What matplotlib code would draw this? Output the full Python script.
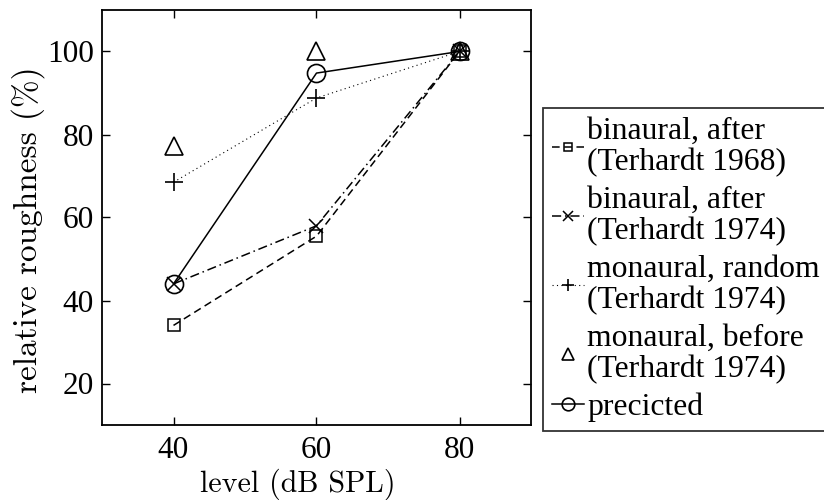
import matplotlib
matplotlib.use("Agg")
import matplotlib.pyplot as plt

plt.rcParams["font.family"] = ["Liberation Serif", "DejaVu Serif"]
plt.rcParams["axes.unicode_minus"] = False

# Sound pressure level (dB SPL)
levels = [40, 60, 80]

# Relative roughness (%) for each condition
binaural_1968 = [34, 55.5, 100]
binaural_1974 = [44, 58, 100]
monaural_random = [68.5, 88.8, 100]
monaural_before = [77.2, 100, 100]
predicted = [44, 94.8, 100]

labels = [
    "binaural, after\n(Terhardt 1968)",
    "binaural, after\n(Terhardt 1974)",
    "monaural, random\n(Terhardt 1974)",
    "monaural, before\n(Terhardt 1974)",
    "precicted",
]

fs = 22.5
fig = plt.figure(figsize=(8.24, 5.0), dpi=100)
ax = fig.add_axes([102 / 824, 1 - 425 / 500, (531 - 102) / 824, (425 - 10) / 500])

lw = 1.1
ax.plot(levels, binaural_1968, linestyle=(0, (5, 3)), color="k", lw=lw,
        marker="s", ms=9, mfc="none", mec="k", mew=1.1, label=labels[0])
ax.plot(levels, binaural_1974, linestyle=(0, (6, 2.5, 1, 2.5)), color="k", lw=lw,
        marker="x", ms=10, mec="k", mew=1.1, label=labels[1])
ax.plot(levels, monaural_random, linestyle=(0, (1, 3)), color="k", lw=0.8,
        marker="+", ms=13, mec="k", mew=1.2, label=labels[2])
ax.plot(levels, monaural_before, linestyle="none", color="k",
        marker="^", ms=13, mfc="none", mec="k", mew=1.2, label=labels[3])
ax.plot(levels, predicted, linestyle="-", color="k", lw=lw,
        marker="o", ms=13, mfc="none", mec="k", mew=1.2, label=labels[4])

ax.set_xlim(30, 90)
ax.set_ylim(10, 110)
ax.set_xticks([40, 60, 80])
ax.set_yticks([20, 40, 60, 80, 100])
ax.tick_params(direction="in", length=6, width=1.0, top=True, right=True,
               labelsize=fs, pad=6)
ax.tick_params(axis="x", pad=8)
for s in ax.spines.values():
    s.set_linewidth(1.3)

ax.set_xlabel("level (dB SPL)", fontsize=21.5, family="cmr10")
ax.set_ylabel("relative roughness (%)", fontsize=24, family="cmr10")
ax.xaxis.set_label_coords(0.456, -0.105)
ax.yaxis.set_label_coords(-0.133, 0.47)

leg = fig.legend(loc="upper left", bbox_to_anchor=(543 / 824, 1 - 108 / 500),
                 bbox_transform=fig.transFigure, borderaxespad=0,
                 fontsize=22.8, frameon=True, fancybox=False, edgecolor="k",
                 handlelength=1.0, handletextpad=0.12, borderpad=0.28,
                 labelspacing=0.28, markerscale=0.7)
leg.get_frame().set_linewidth(1.3)
for t in leg.get_texts():
    t.set_linespacing(1.08)

fig.savefig("out.png", dpi=100)
